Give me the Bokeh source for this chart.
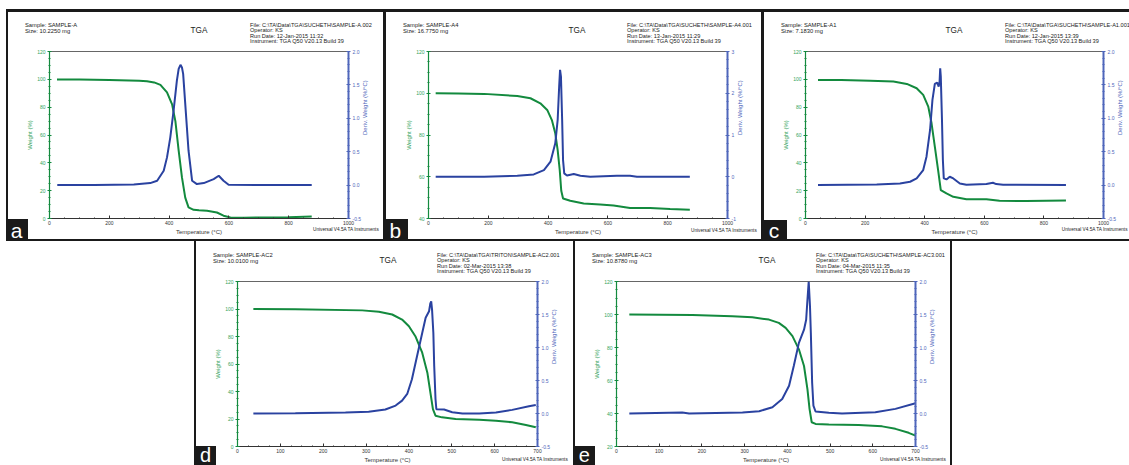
import math
from bokeh.plotting import figure
from bokeh.models import Range1d, LinearAxis, Div, SingleIntervalTicker, Spacer, PrintfTickFormatter
from bokeh.layouts import row, column
from bokeh.embed import file_html
from bokeh.resources import INLINE

FONT = "Liberation Sans"
GREEN = "#138a3e"
BLUE = "#2a42a0"
GREEN_AX = "#34a35c"
BLUE_AX = "#4f66bb"
INK = "#1a1a1a"

# ---------------- data ----------------
a_temp_w = [25, 100, 200, 300, 326, 350, 371, 393, 410, 421, 432, 443, 454, 465, 482, 500, 527, 560, 582, 605, 650, 727, 800, 877]
a_weight = [99.8, 99.8, 99.6, 99.0, 98.6, 97.8, 96.0, 90.6, 82.0, 70.0, 48.7, 29.5, 15.0, 8.0, 6.2, 5.9, 5.5, 4.3, 2.0, 0.7, 0.6, 0.7, 0.9, 1.4]
a_temp_d = [26, 150, 282, 337, 360, 382, 393, 404, 415, 426, 432, 438, 443, 447, 454, 465, 477, 493, 516, 549, 566, 582, 599, 700, 877]
a_deriv = [0.0, 0.0, 0.01, 0.03, 0.065, 0.215, 0.415, 0.715, 1.115, 1.565, 1.74, 1.80, 1.76, 1.665, 1.215, 0.515, 0.065, 0.015, 0.03, 0.09, 0.14, 0.065, 0.005, 0.0, 0.0]

b_temp_w = [24, 100, 186, 297, 341, 374, 397, 413, 424, 432, 439, 444, 450, 474, 519, 574, 619, 674, 741, 808, 874]
b_weight = [100, 99.9, 99.7, 98.7, 97.6, 95.2, 92.0, 87.0, 80.8, 72.8, 63.0, 53.3, 49.6, 48.5, 47.2, 46.7, 46.2, 45.0, 45.0, 44.5, 44.2]
b_temp_d = [24, 186, 297, 352, 386, 408, 424, 432, 437, 440, 443, 447, 450, 454, 463, 486, 508, 541, 630, 674, 697, 874]
b_deriv = [0, 0, 0.025, 0.056, 0.16, 0.36, 0.8, 1.36, 2.16, 2.56, 2.4, 1.36, 0.4, 0.08, 0.03, 0.064, 0.024, 0, 0.024, 0.024, 0, 0]

c_temp_w = [42, 120, 217, 295, 340, 373, 395, 412, 423, 434, 445, 454, 473, 496, 540, 607, 651, 741, 874]
c_weight = [99.6, 99.6, 99.0, 98.4, 96.7, 93.6, 88.8, 80.4, 68.4, 51.6, 34.8, 20.4, 18.0, 15.6, 13.9, 13.9, 12.7, 12.5, 13.0]
c_temp_d = [42, 239, 317, 351, 373, 395, 406, 418, 426, 434, 442, 447, 450, 452, 454, 458, 461, 464, 473, 484, 496, 518, 540, 607, 629, 640, 663, 874]
c_deriv = [0, 0.01, 0.025, 0.05, 0.1, 0.225, 0.425, 0.825, 1.275, 1.515, 1.535, 1.475, 1.55, 1.75, 1.625, 0.975, 0.375, 0.1, 0.085, 0.125, 0.1, 0.025, 0.005, 0.015, 0.035, 0.015, 0.005, 0]

d_temp_w = [37, 135, 291, 330, 361, 384, 400, 415, 431, 443, 450, 456, 462, 477, 509, 564, 603, 641, 673, 696]
d_weight = [100, 99.8, 99.0, 98.0, 96.0, 92.3, 87.5, 80.2, 68.2, 53.7, 39.3, 27.2, 22.4, 21.2, 20.0, 19.5, 18.8, 17.6, 15.7, 14.0]
d_temp_d = [37, 135, 252, 306, 345, 369, 384, 396, 407, 419, 431, 439, 447, 450, 452, 454, 457, 459, 462, 464, 482, 501, 525, 564, 603, 641, 680, 696]
d_deriv = [0, 0.005, 0.015, 0.025, 0.06, 0.12, 0.195, 0.296, 0.52, 0.87, 1.22, 1.45, 1.55, 1.67, 1.70, 1.57, 1.22, 0.72, 0.22, 0.065, 0.06, 0.02, 0, 0, 0.015, 0.055, 0.11, 0.13]

e_temp_w = [30, 178, 271, 318, 357, 380, 396, 412, 427, 439, 447, 452, 457, 466, 497, 567, 622, 653, 684, 700]
e_weight = [100, 99.7, 99.0, 98.3, 96.9, 94.9, 91.9, 86.9, 78.9, 68.8, 54.8, 42.7, 34.7, 33.7, 33.3, 33.1, 32.2, 30.7, 28.3, 26.6]
e_temp_d = [30, 154, 170, 295, 334, 365, 388, 404, 415, 427, 439, 444, 447, 450, 453, 455, 458, 461, 466, 497, 528, 606, 653, 700]
e_deriv = [0, 0.015, 0, 0.015, 0.035, 0.095, 0.22, 0.42, 0.72, 1.07, 1.27, 1.42, 1.72, 2.0, 1.62, 1.22, 0.47, 0.12, 0.03, 0.01, 0, 0.02, 0.07, 0.155]

a_info = ["Sample: SAMPLE-A", "Size:  10.2250 mg",
          "File: C:\\TA\\Data\\TGA\\SUCHETH\\SAMPLE-A.002", "Operator: KS",
          "Run Date: 12-Jan-2015 11:32", "Instrument: TGA Q50 V20.13 Build 39"]
b_info = ["Sample: SAMPLE-A4", "Size:  16.7750 mg",
          "File: C:\\TA\\Data\\TGA\\SUCHETH\\SAMPLE-A4.001", "Operator: KS",
          "Run Date: 13-Jan-2015 11:29", "Instrument: TGA Q50 V20.13 Build 39"]
c_info = ["Sample: SAMPLE-A1", "Size:  7.1830 mg",
          "File: C:\\TA\\Data\\TGA\\SUCHETH\\SAMPLE-A1.001", "Operator: KS",
          "Run Date: 12-Jan-2015 13:39", "Instrument: TGA Q50 V20.13 Build 39"]
d_info = ["Sample: SAMPLE-AC2", "Size:  10.0100 mg",
          "File: C:\\TA\\Data\\TGA\\TRITON\\SAMPLE-AC2.001", "Operator: KS",
          "Run Date: 02-Mar-2015 13:38", "Instrument: TGA Q50 V20.13 Build 39"]
e_info = ["Sample: SAMPLE-AC3", "Size:  10.8780 mg",
          "File: C:\\TA\\Data\\TGA\\SUCHETH\\SAMPLE-AC3.001", "Operator: KS",
          "Run Date: 04-Mar-2015 11:35", "Instrument: TGA Q50 V20.13 Build 39"]
plot_title = "TGA"
footer = "Universal V4.5A TA Instruments"
letters = ["a", "b", "c", "d", "e"]


def style_axis(ax, line_color, label_color, width=1.2, t_in=2, t_out=2):
    ax.axis_line_color = line_color
    ax.axis_line_width = width
    ax.major_tick_line_color = line_color
    ax.minor_tick_line_color = line_color
    ax.major_label_text_color = label_color
    ax.axis_label_text_color = label_color
    ax.major_label_text_font_size = "5px"
    ax.axis_label_text_font_size = "6px"
    ax.axis_label_text_font_style = "normal"
    ax.major_label_text_font = FONT
    ax.axis_label_text_font = FONT
    ax.major_tick_in = t_in
    ax.major_tick_out = t_out
    ax.minor_tick_in = 1 if t_in else 0
    ax.minor_tick_out = 1 if t_out else 0
    ax.major_label_standoff = 2
    ax.axis_label_standoff = 1


def make_panel(width, height, bl, br, bt, bb, x_end, x_step, w_start, d_start, d_end, d_step, d_fmt,
               temp_w, weight, temp_d, deriv):
    p = figure(width=width, height=height, x_range=Range1d(0, x_end), y_range=Range1d(w_start, 120),
               output_backend="svg", toolbar_location=None,
               min_border_left=bl, min_border_right=br, min_border_top=bt, min_border_bottom=bb,
               x_axis_label="Temperature (°C)", y_axis_label="Weight (%)")
    p.grid.visible = False
    p.outline_line_color = "#666666"
    p.outline_line_width = 1
    p.background_fill_color = "white"
    p.border_fill_color = "white"
    p.extra_y_ranges = {"d": Range1d(d_start, d_end)}

    p.line(temp_w, weight, line_color=GREEN, line_width=2)
    p.line(temp_d, deriv, line_color=BLUE, line_width=2, y_range_name="d")

    rax = LinearAxis(y_range_name="d", axis_label="Deriv. Weight (%/°C)",
                     ticker=SingleIntervalTicker(interval=d_step, num_minor_ticks=5),
                     formatter=PrintfTickFormatter(format=d_fmt))
    p.add_layout(rax, "right")
    style_axis(rax, BLUE_AX, BLUE_AX, 2)
    try:
        rax.axis_label_orientation = math.pi / 2
    except Exception:
        pass

    p.yaxis[0].ticker = SingleIntervalTicker(interval=20, num_minor_ticks=4)
    style_axis(p.yaxis[0], GREEN, GREEN_AX)
    p.xaxis[0].ticker = SingleIntervalTicker(interval=x_step, num_minor_ticks=4)
    style_axis(p.xaxis[0], "#333333", "#333333", t_in=3, t_out=0)
    return p


pa = make_panel(378, 231, 43, 36, 42, 22, 1000, 200, 0, -0.5, 2.0, 0.5, "%.1f",
                a_temp_w, a_weight, a_temp_d, a_deriv)
pb = make_panel(378, 231, 44, 35, 42, 22, 1000, 200, 40, -1, 3, 1, "%d",
                b_temp_w, b_weight, b_temp_d, b_deriv)
pc = make_panel(367, 231, 43, 25, 42, 22, 1000, 200, 0, -0.5, 2.0, 0.5, "%.1f",
                c_temp_w, c_weight, c_temp_d, c_deriv)
pd = make_panel(380, 225, 43, 37, 41, 17, 700, 100, 0, -0.5, 2.0, 0.5, "%.1f",
                d_temp_w, d_weight, d_temp_d, d_deriv)
pe = make_panel(378, 225, 42, 37, 41, 17, 700, 100, 20, -0.5, 2.0, 0.5, "%.1f",
                e_temp_w, e_weight, e_temp_d, e_deriv)

# ---------------- header / footer texts and panel frames (HTML overlay) ----------------
parts = []


def text_at(x, y, text, size, color="#222222", anchor="left"):
    tx = {"left": "0", "center": "-50%", "right": "-100%"}[anchor]
    parts.append(
        f'<div style="position:absolute;left:{x}px;top:{y}px;transform:translate({tx},-50%);'
        f'white-space:nowrap;font-family:\'{FONT}\';font-size:{size}px;line-height:1;'
        f'color:{color};">{text}</div>')


def rect_at(x0, y0, x1, y1, color=INK):
    parts.append(f'<div style="position:absolute;left:{x0}px;top:{y0}px;width:{x1 - x0}px;'
                 f'height:{y1 - y0}px;background:{color};"></div>')


def letter_at(x0, y0, x1, y1, letter, top, size=21):
    rect_at(x0, y0, x1, y1)
    parts.append(
        f'<div style="position:absolute;left:{(x0 + x1) / 2}px;top:{top}px;transform:translateX(-50%);'
        f'white-space:nowrap;font-family:\'{FONT}\';font-size:{size}px;line-height:1;color:white;">{letter}</div>')


headers = [
    (a_info, 25.7, 25, 199, 250, (313, "left"), 230),
    (b_info, 25.7, 403, 577, 627, (691, "left"), 230.5),
    (c_info, 25.7, 781, 954, 1005, (1127.5, "right"), 230),
    (d_info, 255.7, 213, 388, 437, (502, "left"), 460),
    (e_info, 255.7, 592, 767, 816, (880, "left"), 460),
]
for info, y0, lx, tx, fx, (ux, ua), uy in headers:
    text_at(lx, y0, info[0], 5.8)
    text_at(lx, y0 + 6.5, info[1], 5.8)
    text_at(tx, y0 + 5.7, plot_title, 8.2, anchor="center")
    for i, t in enumerate(info[2:]):
        text_at(fx, y0 + 5.45 * i, t, 5.6)
    text_at(ux, uy, footer, 4.7, anchor=ua)

# panel frame lines
rect_at(5.5, 9, 1129, 11.5)        # top edge
rect_at(5.5, 9, 7.5, 240.5)        # left edge of a
rect_at(383, 9, 385.5, 240.5)      # a | b
rect_at(761, 9, 763.5, 240.5)      # b | c
rect_at(5.5, 238.5, 1129, 241)     # between rows
rect_at(194, 239, 196, 465)        # left edge of d
rect_at(572.5, 239, 575, 465)      # d | e
rect_at(949.5, 239, 951.5, 465)    # right edge of e

# panel letters
letter_at(5.5, 219, 27.5, 240, letters[0], 219.5)
letter_at(383, 219, 407.5, 240, letters[1], 219.5)
letter_at(761.5, 219.5, 786.5, 240, letters[2], 219.5)
letter_at(195, 446, 216, 465, letters[3], 444.5, 20)
letter_at(574, 446, 594.5, 465, letters[4], 444.5, 20)

overlay = Div(text="".join(parts), width=1129, height=465, margin=0,
              styles={"position": "absolute", "left": "0px", "top": "0px", "z-index": "10",
                      "pointer-events": "none", "overflow": "hidden", "padding": "0px"})

layout = column(
    Spacer(width=1129, height=9),
    row(Spacer(width=6, height=231), pa, pb, pc, spacing=0),
    row(Spacer(width=194, height=225), pd, pe, spacing=0),
    overlay,
    spacing=0,
)

open("out.html", "w").write(file_html(layout, INLINE))
